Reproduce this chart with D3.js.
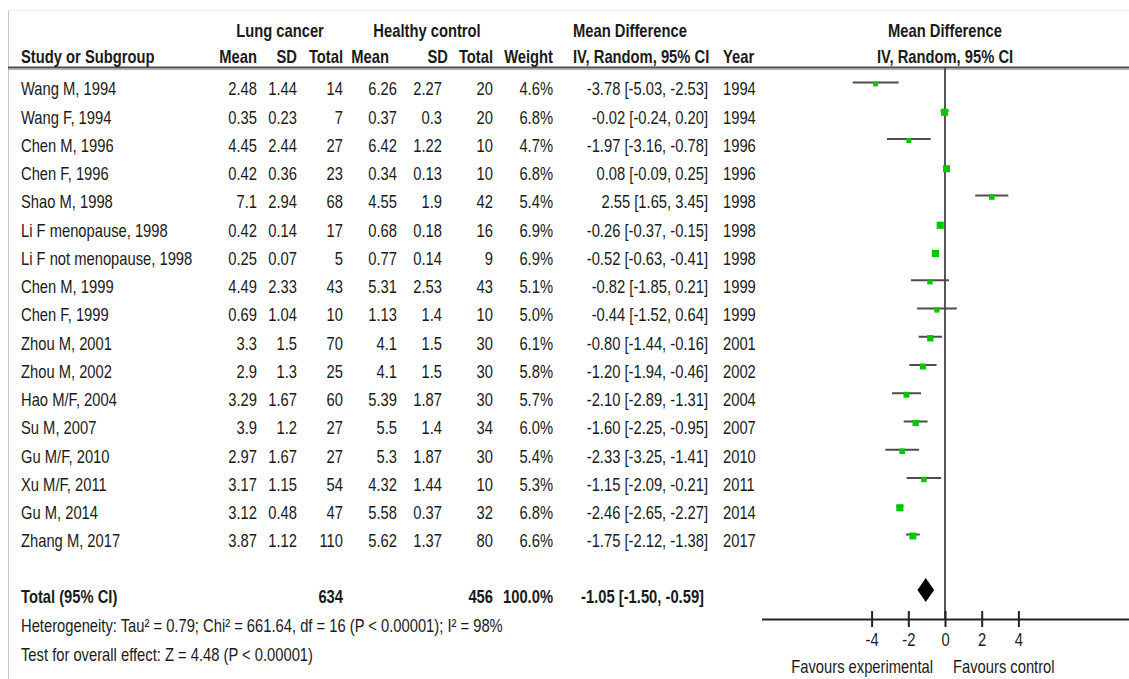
<!DOCTYPE html>
<html>
<head>
<meta charset="utf-8">
<script src="https://cdn.jsdelivr.net/npm/d3@7"></script>
<style>
  html, body { margin: 0; padding: 0; background: #fff; }
  svg { display: block; }
  text { font-family: "Liberation Sans", Arial, sans-serif; fill: #1a1a1a; }
</style>
</head>
<body>
<svg id="chart" width="1129" height="679"></svg>
<script>
// Study rows
const studies = ["Wang M, 1994", "Wang F, 1994", "Chen M, 1996", "Chen F, 1996", "Shao M, 1998",
  "Li F menopause, 1998", "Li F not menopause, 1998", "Chen M, 1999", "Chen F, 1999", "Zhou M, 2001",
  "Zhou M, 2002", "Hao M/F, 2004", "Su M, 2007", "Gu M/F, 2010", "Xu M/F, 2011", "Gu M, 2014", "Zhang M, 2017"];
const lungMean  = [2.48, 0.35, 4.45, 0.42, 7.1, 0.42, 0.25, 4.49, 0.69, 3.3, 2.9, 3.29, 3.9, 2.97, 3.17, 3.12, 3.87];
const lungSD    = [1.44, 0.23, 2.44, 0.36, 2.94, 0.14, 0.07, 2.33, 1.04, 1.5, 1.3, 1.67, 1.2, 1.67, 1.15, 0.48, 1.12];
const lungN     = [14, 7, 27, 23, 68, 17, 5, 43, 10, 70, 25, 60, 27, 27, 54, 47, 110];
const ctrlMean  = [6.26, 0.37, 6.42, 0.34, 4.55, 0.68, 0.77, 5.31, 1.13, 4.1, 4.1, 5.39, 5.5, 5.3, 4.32, 5.58, 5.62];
const ctrlSD    = [2.27, 0.3, 1.22, 0.13, 1.9, 0.18, 0.14, 2.53, 1.4, 1.5, 1.5, 1.87, 1.4, 1.87, 1.44, 0.37, 1.37];
const ctrlN     = [20, 20, 10, 10, 42, 16, 9, 43, 10, 30, 30, 30, 34, 30, 10, 32, 80];
const weight    = [4.6, 6.8, 4.7, 6.8, 5.4, 6.9, 6.9, 5.1, 5.0, 6.1, 5.8, 5.7, 6.0, 5.4, 5.3, 6.8, 6.6];
const meanDiff  = [-3.78, -0.02, -1.97, 0.08, 2.55, -0.26, -0.52, -0.82, -0.44, -0.80, -1.20, -2.10, -1.60, -2.33, -1.15, -2.46, -1.75];
const ciLow     = [-5.03, -0.24, -3.16, -0.09, 1.65, -0.37, -0.63, -1.85, -1.52, -1.44, -1.94, -2.89, -2.25, -3.25, -2.09, -2.65, -2.12];
const ciHigh    = [-2.53, 0.20, -0.78, 0.25, 3.45, -0.15, -0.41, 0.21, 0.64, -0.16, -0.46, -1.31, -0.95, -1.41, -0.21, -2.27, -1.38];
const years     = [1994, 1994, 1996, 1996, 1998, 1998, 1998, 1999, 1999, 2001, 2002, 2004, 2007, 2010, 2011, 2014, 2017];

// Pooled estimate
const totalLungN = 634;
const totalCtrlN = 456;
const totalWeight = 100.0;
const pooled = { md: -1.05, low: -1.50, high: -0.59 };
const heterogeneityText = "Heterogeneity: Tau² = 0.79; Chi² = 661.64, df = 16 (P < 0.00001); I² = 98%";
const overallText = "Test for overall effect: Z = 4.48 (P < 0.00001)";

// Axis
const axisTicks = [-4, -2, 0, 2, 4];
const axisDomain = [-10, 10];

const loc = d3.formatLocale({ decimal: ".", thousands: ",", grouping: [3], currency: ["", ""], minus: "-" });
const f2 = loc.format(".2f");
const f1 = loc.format(".1f");
const fTick = loc.format("d");

const svg = d3.select("#chart");
const SX = 0.82;          // horizontal condensing of the table type
const FS = 18;

function label(x, y, s, opt = {}) {
  return svg.append("text")
    .attr("transform", `translate(${x},${y + 6.4}) scale(${opt.sx || SX},1)`)
    .attr("text-anchor", opt.anchor || "start")
    .attr("font-size", opt.size || FS)
    .attr("font-weight", opt.bold ? "bold" : "normal")
    .text(s);
}

// frame lines
svg.append("line").attr("x1", 8.5).attr("x2", 8.5).attr("y1", 10).attr("y2", 679)
  .attr("stroke", "#c8c8c8").attr("stroke-width", 1);
svg.append("line").attr("x1", 8).attr("x2", 1129).attr("y1", 10.5).attr("y2", 10.5)
  .attr("stroke", "#ececec").attr("stroke-width", 1);

// header rule
svg.append("line").attr("x1", 8).attr("x2", 1129).attr("y1", 67.5).attr("y2", 67.5)
  .attr("stroke", "#4a4a4a").attr("stroke-width", 2);
svg.append("line").attr("x1", 8).attr("x2", 1129).attr("y1", 69.5).attr("y2", 69.5)
  .attr("stroke", "#b0b0b0").attr("stroke-width", 1);

// column anchors (right edges of numeric columns)
const col = { study: 21, lm: 257, lsd: 297, ln: 343, cm: 397, csd: 442, cn: 493, w: 553, ci: 708, year: 723 };

// headers
const h1 = 31, h2 = 57;
label(280, h1, "Lung cancer", { bold: true, anchor: "middle" });
label(427, h1, "Healthy control", { bold: true, anchor: "middle" });
label(573, h1, "Mean Difference", { bold: true });
label(col.study, h2, "Study or Subgroup", { bold: true });
label(col.lm, h2, "Mean", { bold: true, anchor: "end" });
label(col.lsd, h2, "SD", { bold: true, anchor: "end" });
label(col.ln, h2, "Total", { bold: true, anchor: "end" });
label(col.cm - 8, h2, "Mean", { bold: true, anchor: "end" });
label(col.csd + 6, h2, "SD", { bold: true, anchor: "end" });
label(col.cn, h2, "Total", { bold: true, anchor: "end" });
label(col.w, h2, "Weight", { bold: true, anchor: "end" });
label(573, h2, "IV, Random, 95% CI", { bold: true });
label(col.year, h2, "Year", { bold: true });

// forest scale
const x = d3.scaleLinear().domain(axisDomain).range([761.5, 1128.5]);
const axisY = 619;
label(x(0), h1, "Mean Difference", { bold: true, anchor: "middle" });
label(x(0), h2, "IV, Random, 95% CI", { bold: true, anchor: "middle" });

// row positions
const yText = d3.scaleLinear().domain([0, studies.length - 1]).range([89, 541]);
const yMark = d3.scaleLinear().domain([0, studies.length - 1]).range([82.5, 534.5]);

studies.forEach((s, i) => {
  const y = yText(i);
  label(col.study, y, s);
  label(col.lm, y, String(lungMean[i]), { anchor: "end" });
  label(col.lsd, y, String(lungSD[i]), { anchor: "end" });
  label(col.ln, y, String(lungN[i]), { anchor: "end" });
  label(col.cm, y, String(ctrlMean[i]), { anchor: "end" });
  label(col.csd, y, String(ctrlSD[i]), { anchor: "end" });
  label(col.cn, y, String(ctrlN[i]), { anchor: "end" });
  label(col.w, y, f1(weight[i]) + "%", { anchor: "end" });
  label(col.ci, y, `${f2(meanDiff[i])} [${f2(ciLow[i])}, ${f2(ciHigh[i])}]`, { anchor: "end" });
  label(col.year, y, String(years[i]));
});

// totals
const yTot = 597;
label(col.study, yTot, "Total (95% CI)", { bold: true });
label(col.ln, yTot, String(totalLungN), { bold: true, anchor: "end" });
label(col.cn, yTot, String(totalCtrlN), { bold: true, anchor: "end" });
label(col.w, yTot, f1(totalWeight) + "%", { bold: true, anchor: "end" });
label(col.ci - 4, yTot, `${f2(pooled.md)} [${f2(pooled.low)}, ${f2(pooled.high)}]`, { bold: true, anchor: "end" });
label(col.study, 626, heterogeneityText);
label(col.study, 655, overallText);

// zero line
svg.append("line").attr("x1", x(0)).attr("x2", x(0)).attr("y1", 68).attr("y2", axisY)
  .attr("stroke", "#555").attr("stroke-width", 2);

// confidence intervals and study markers
const g = svg.append("g");
g.selectAll("line.ci").data(studies).join("line").attr("class", "ci")
  .attr("x1", (d, i) => x(ciLow[i])).attr("x2", (d, i) => x(ciHigh[i]))
  .attr("y1", (d, i) => yMark(i)).attr("y2", (d, i) => yMark(i))
  .attr("stroke", "#4d4d4d").attr("stroke-width", 2);
g.selectAll("rect.pt").data(studies).join("rect").attr("class", "pt")
  .attr("x", (d, i) => x(meanDiff[i]) - weight[i] * 0.52)
  .attr("y", (d, i) => yMark(i) + 1.5 - weight[i] * 0.52)
  .attr("width", (d, i) => weight[i] * 1.04)
  .attr("height", (d, i) => weight[i] * 1.04)
  .attr("fill", "#00c800");

// pooled diamond
const yd = 590;
svg.append("path")
  .attr("d", `M${x(pooled.low)},${yd} L${x(pooled.md)},${yd - 12} L${x(pooled.high)},${yd} L${x(pooled.md)},${yd + 12} Z`)
  .attr("fill", "#000");

// axis
const axis = d3.axisBottom(x).tickValues(axisTicks).tickFormat(fTick).tickSizeInner(8).tickSizeOuter(0).tickPadding(6);
const ag = svg.append("g").attr("transform", `translate(0,${axisY})`).call(axis);
ag.select(".domain").attr("stroke", "#222").attr("stroke-width", 2);
ag.selectAll(".tick line").attr("y1", -8).attr("stroke", "#222").attr("stroke-width", 2);
ag.selectAll(".tick text").attr("font-size", FS).attr("fill", "#1a1a1a")
  .attr("font-family", "Liberation Sans, Arial, sans-serif")
  .attr("transform", `scale(${SX},1)`);

label(x(0) - 12, 667, "Favours experimental", { anchor: "end" });
label(x(0) + 8, 667, "Favours control");
</script>
</body>
</html>
